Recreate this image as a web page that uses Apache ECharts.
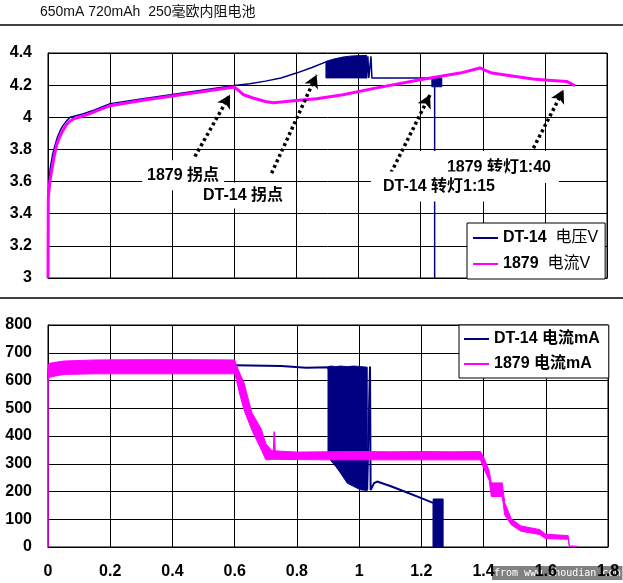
<!DOCTYPE html>
<html><head><meta charset="utf-8">
<script src="https://cdn.jsdelivr.net/npm/echarts@6/dist/echarts.min.js"></script>
<style>html,body{margin:0;padding:0;background:#fff}#c{width:623px;height:583px}</style>
</head><body><div id="c"></div>
<script>
const titleText = '650mA 720mAh  250毫欧内阻电池';
const names = ['DT-14 电压V', '1879 电流V', 'DT-14 电流mA', '1879 电流mA'];
const xTicks = [0, 0.2, 0.4, 0.6, 0.8, 1, 1.2, 1.4, 1.6, 1.8];
const vTicks = [3, 3.2, 3.4, 3.6, 3.8, 4, 4.2, 4.4];
const iTicks = [0, 100, 200, 300, 400, 500, 600, 700, 800];

// top chart: voltage
const dtVoltage = [[0.000,3.40],[0.002,3.56],[0.007,3.68],[0.015,3.77],[0.023,3.83],[0.031,3.88],[0.039,3.915],[0.047,3.945],[0.055,3.965],[0.063,3.985],[0.071,4.0],[0.09,4.01],[0.114,4.022],[0.15,4.045],[0.2,4.085],[0.3,4.114],[0.4,4.142],[0.5,4.17],[0.6,4.198],[0.65,4.209],[0.7,4.225],[0.75,4.245],[0.8,4.275],[0.85,4.31],[0.895,4.345],[1.026,4.245],[1.03,4.38],[1.033,4.245],[1.04,4.38],[1.043,4.245],[1.245,4.245],[1.245,3.0]];
const dtVoltageBand = [[0.895,4.245,4.348],[0.92,4.245,4.362],[0.95,4.245,4.375],[0.98,4.245,4.382],[1.026,4.245,4.385]];
const dtVoltageBlock = [[1.236,4.19,4.244],[1.268,4.19,4.244]];
const p1879Voltage = [[0,3.0],[0.001,3.5],[0.006,3.6],[0.012,3.67],[0.02,3.76],[0.028,3.83],[0.038,3.88],[0.049,3.92],[0.06,3.955],[0.07,3.975],[0.082,3.99],[0.1,4.0],[0.13,4.02],[0.2,4.072],[0.3,4.104],[0.4,4.132],[0.5,4.16],[0.6,4.188],[0.615,4.165],[0.63,4.14],[0.66,4.12],[0.7,4.098],[0.725,4.09],[0.76,4.097],[0.79,4.103],[0.865,4.115],[0.95,4.14],[1.05,4.18],[1.198,4.234],[1.327,4.275],[1.391,4.307],[1.41,4.29],[1.43,4.275],[1.5,4.255],[1.562,4.238],[1.6,4.232],[1.67,4.223],[1.697,4.196]];

// bottom chart: current
const dtCurrent = [[0,605],[0.002,640],[0.01,650],[0.3,655],[0.6,655],[0.75,652],[0.83,646],[0.9,648],[1.026,206],[1.03,206],[1.035,650],[1.037,205],[1.048,230],[1.058,236],[1.1,220],[1.15,198],[1.2,176],[1.24,158],[1.24,0]];
const dtCurrentBand = [[0.9,330,650],[0.91,310,652],[0.925,290,650],[0.94,267,652],[0.962,230,650],[0.983,218,652],[1.005,206,650],[1.026,204,648]];
const dtCurrentBlock = [[1.238,0,173],[1.27,0,173]];
const p1879CurrentBand = [[0.0,600,650],[0.004,612,662],[0.05,622,670],[0.15,624,674],[0.3,624,675],[0.45,624,675],[0.6,624,674],[0.605,605,658],[0.614,560,632],[0.63,494,592],[0.655,422,485],[0.686,350,424],[0.70,314,372],[0.72,316,347],[0.8,315,342],[0.9,314,343],[1.0,314,344],[1.1,314,343],[1.2,314,344],[1.3,314,343],[1.39,314,344],[1.40,285,325],[1.418,240,275],[1.425,182,231],[1.46,182,231],[1.468,115,160],[1.489,80,102],[1.52,57,76],[1.58,45,63],[1.6,30,46],[1.672,28,41],[1.676,0,4],[1.7,0,3]];
const p1879CurrentEdge = [[0,0],[0,640],[0.003,640]];
const p1879CurrentSpike = [[0.725,340],[0.727,416],[0.73,340]];

// annotations (data coordinates), drawn in this order
const notes = [
  {name:'1879 拐点', at:[0.435,3.64], from:[0.473,3.756], to:[0.586,4.14]},
  {name:'DT-14 拐点', at:[0.628,3.513], from:[0.72,3.652], to:[0.865,4.265]},
  {name:'1879 转灯1:40', at:[1.452,3.69], from:[1.563,3.808], to:[1.66,4.171]},
  {name:'DT-14 转灯1:15', at:[1.259,3.569], from:[1.096,3.621], to:[1.23,4.14]}
];
const notePads = [[8,5,6,5],[2,10,8,6],[8,8,8,28],[6,10,8,12]];

const NAVY = '#000080', PINK = '#FF00FF';
const FONT = '"Liberation Sans", Arial, "Noto Sans CJK SC", sans-serif';

function band(arr, color, xi, z) {
  return {
    type:'custom', xAxisIndex:xi, yAxisIndex:xi, z:z, silent:true, clip:true,
    data: arr, encode:{x:0, y:[1,2]},
    renderItem: function(params, api) {
      if (params.dataIndex !== 0) return null;
      const up = arr.map(d => api.coord([d[0], d[2]]));
      const lo = arr.map(d => api.coord([d[0], d[1]])).reverse();
      return {type:'polygon', shape:{points: up.concat(lo)}, style:{fill:color, stroke:color, lineWidth:1}};
    }
  };
}
function line(name, data, color, width, xi, z, extra) {
  return Object.assign({
    type:'line', name:name, data:data, xAxisIndex:xi, yAxisIndex:xi, z:z,
    showSymbol:false, symbol:'none', silent:true,
    lineStyle:{color:color, width:width}, itemStyle:{color:color}
  }, extra || {});
}
function xAxis(idx, showLabel) {
  return {type:'value', gridIndex:idx, min:0, max:1.8, interval:0.2,
    axisLine:{show:true, lineStyle:{color:'#000', width:1}}, axisTick:{show:false},
    splitLine:{show:true, lineStyle:{color:'#000', width:1}},
    axisLabel:{show:showLabel, margin:17, fontSize:16, fontWeight:'bold', color:'#000', fontFamily:FONT,
      formatter: v => String(+v.toFixed(1))}};
}
function yAxis(idx, min, max, interval) {
  return {type:'value', gridIndex:idx, min:min, max:max, interval:interval,
    axisLine:{show:true, lineStyle:{color:'#000', width:1}}, axisTick:{show:false},
    splitLine:{show:true, lineStyle:{color:'#000', width:1}},
    axisLabel:{margin:16, fontSize:16, fontWeight:'bold', color:'#000', fontFamily:FONT,
      formatter: v => String(+v.toFixed(1))}};
}
const legendBase = {
  orient:'vertical', icon:'rect', itemWidth:25, itemHeight:2,
  backgroundColor:'#fff', borderColor:'#000', borderWidth:1, borderRadius:0,
  textStyle:{fontSize:16, color:'#000', fontFamily:FONT,
    rich:{a:{fontSize:16, fontWeight:'bold', fontFamily:FONT}, c:{fontSize:16, fontFamily:FONT}}},
  selectedMode:false
};

const chart = echarts.init(document.getElementById('c'), null, {renderer:'canvas'});
chart.setOption({
  animation:false,
  backgroundColor:'#fff',
  grid:[
    {left:48, top:53, width:559, height:225, show:true, borderColor:'#000', borderWidth:1},
    {left:48, top:325, width:560, height:222, show:true, borderColor:'#000', borderWidth:1}
  ],
  xAxis:[xAxis(0,false), xAxis(1,true)],
  yAxis:[yAxis(0, vTicks[0], vTicks[vTicks.length-1], 0.2), yAxis(1, iTicks[0], iTicks[iTicks.length-1], 100)],
  legend:[
    Object.assign({}, legendBase, {data:[names[0], names[1]], left:467, top:223, padding:[7,7,7,6], itemGap:10,
      formatter: n => { const k = n.indexOf(' '); return '{a|' + n.slice(0,k) + '}  {c|' + n.slice(k+1) + '}'; }}),
    Object.assign({}, legendBase, {data:[names[2], names[3]], left:459, top:325, padding:[6,9,6,5], itemGap:9,
      formatter: n => { const k = n.indexOf(' '); return '{a|' + n.slice(0,k) + '} {a|' + n.slice(k+1) + '}'; }})
  ],
  series:[
    band(dtVoltageBand, NAVY, 0, 1),
    band(dtVoltageBlock, NAVY, 0, 1),
    line(names[0], dtVoltage, NAVY, 1.5, 0, 1),
    line(names[1], p1879Voltage, PINK, 3, 0, 2, {
      markLine:{silent:true, symbol:['none','arrow'], symbolSize:[11,13], animation:false,
        label:{show:false}, lineStyle:{color:'#000', width:3.5, type:[3,3]},
        emphasis:{disabled:true},
        data: notes.map(n => [{coord:n.from}, {coord:n.to}])}
    }),
    band(dtCurrentBand, NAVY, 1, 1),
    band(dtCurrentBlock, NAVY, 1, 1),
    line(names[2], dtCurrent, NAVY, 2, 1, 1),
    band(p1879CurrentBand, PINK, 1, 2),
    line(names[3], p1879CurrentEdge, PINK, 1.5, 1, 2),
    line('spike', p1879CurrentSpike, PINK, 1.5, 1, 2)
  ]
});

// annotation labels placed through the chart's own scale
const noteLabels = notes.map((n, i) => {
  const p = chart.convertToPixel({gridIndex:0}, n.at);
  const pad = notePads[i];
  return {type:'text', x:p[0] - (pad[3] - pad[1]) / 2, y:p[1], z:100 + i,
    style:{text:n.name, align:'center', verticalAlign:'middle',
      font:'bold 16px ' + FONT, fill:'#000', backgroundColor:'#fff', padding:pad}};
});
chart.setOption({
  graphic: [
    {type:'text', left:40, top:5, style:{text:titleText, font:'14px "Liberation Sans", "Noto Sans CJK SC", sans-serif', fill:'#111'}},
    {type:'line', shape:{x1:0, y1:25, x2:623, y2:25}, style:{stroke:'#000', lineWidth:1.5}},
    {type:'line', shape:{x1:0, y1:298, x2:623, y2:298}, style:{stroke:'#000', lineWidth:1.5}},
    {type:'text', left:492, top:566, style:{text:'from www.shoudian.com', font:'10px "DejaVu Sans Mono", monospace', fill:'#fff', backgroundColor:'rgba(80,80,80,0.72)', padding:[2,2,2,2]}}
  ].concat(noteLabels)
});
</script></body></html>
